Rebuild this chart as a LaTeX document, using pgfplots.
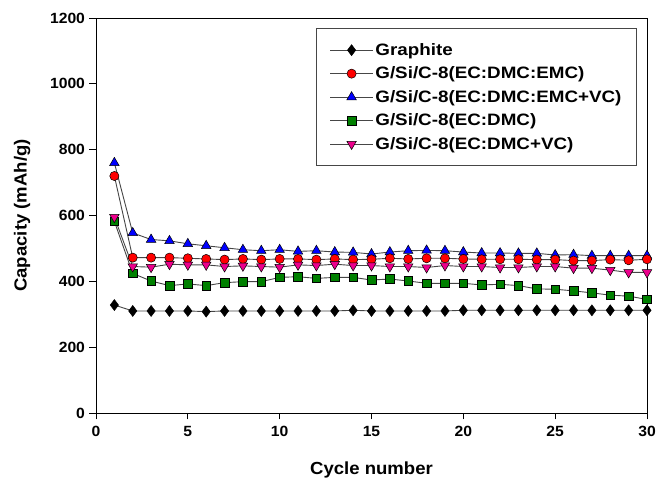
\documentclass[border=0pt]{standalone}
\usepackage{pgfplots}
\pgfplotsset{compat=1.18}
\usepackage{fontspec}
\setmainfont{Liberation Sans}
\newfontfamily\stretchfont[FakeStretch=1.14]{Liberation Sans}
\newfontfamily\tickfont[FakeStretch=1.06]{Liberation Sans}
\definecolor{mgreen}{RGB}{0,128,0}
\definecolor{lgray}{RGB}{70,70,70}
\begin{document}
\begin{tikzpicture}
\useasboundingbox (-96pt,-68pt) rectangle (575pt,413pt);
\begin{axis}[
  scale only axis,
  width=551pt, height=395pt,
  xmin=0, xmax=30, ymin=0, ymax=1200,
  xtick={0,5,...,30}, ytick={0,200,...,1200},
  xtick pos=bottom, ytick pos=left,
  tick align=outside,
  major tick length=6.5pt,
  every tick/.style={black, line width=0.8pt},
  axis line style={black, line width=0.9pt},
  /pgf/number format/assume math mode=true,
  /pgf/number format/1000 sep={},
  ticklabel style={font=\tickfont\fontsize{14.8}{18}\selectfont\bfseries},
  xticklabel style={yshift=-3pt},
  yticklabel style={xshift=-1pt},
  xlabel={Cycle number},
  ylabel={Capacity (mAh/g)},
  every axis x label/.style={at={(axis description cs:0.5,-0.145)}, anchor=center, font=\tickfont\fontsize{17.5}{20}\selectfont\bfseries},
  every axis y label/.style={at={(axis description cs:-0.134,0.5)}, rotate=90, anchor=center, font=\tickfont\fontsize{17.5}{20}\selectfont\bfseries},
  legend style={at={(0.982,0.975)}, anchor=north east, draw=lgray, line width=1.2pt,
    font=\stretchfont\fontsize{16.5}{20}\selectfont\bfseries, row sep=6pt, inner xsep=13pt, inner ysep=13pt},
  legend cell align=left,
  legend image code/.code={\draw[mark repeat=2,mark phase=2,line width=0.9pt] plot coordinates {(0cm,0cm)(0.75cm,0cm)(1.5cm,0cm)};},
  every axis plot/.append style={line width=0.9pt, draw=lgray},
]
\addplot[lgray, mark=diamond*, mark size=5.5pt, mark options={fill=black, draw=black, line width=0.5pt}] coordinates {
(1,328)(2,310)(3,310)(4,310)(5,310)(6,308)(7,310)(8,310)(9,310)(10,310)
(11,310)(12,310)(13,310)(14,312)(15,310)(16,310)(17,310)(18,310)(19,310)(20,312)
(21,312)(22,312)(23,312)(24,312)(25,312)(26,312)(27,312)(28,312)(29,312)(30,312)};
\addlegendimage{lgray, line width=0.9pt, mark=*, mark size=4.6pt, mark options={fill=red, draw=black, line width=0.5pt}}
\addplot[lgray, mark=triangle*, mark size=5.5pt, mark options={fill=blue, draw=black, line width=0.5pt}] coordinates {
(1,760)(2,547)(3,527)(4,523)(5,514)(6,508)(7,502)(8,496)(9,493)(10,496)
(11,491)(12,493)(13,489)(14,488)(15,483)(16,489)(17,493)(18,494)(19,493)(20,489)
(21,486)(22,486)(23,485)(24,485)(25,480)(26,481)(27,478)(28,478)(29,478)(30,478)};
\addplot[forget plot, lgray, mark=*, mark size=4.6pt, mark options={fill=red, draw=black, line width=0.5pt}] coordinates {
(1,720)(2,472)(3,472)(4,472)(5,470)(6,468)(7,466)(8,468)(9,466)(10,468)
(11,468)(12,466)(13,468)(14,466)(15,467)(16,470)(17,468)(18,470)(19,470)(20,468)
(21,467)(22,467)(23,467)(24,466)(25,466)(26,463)(27,463)(28,466)(29,464)(30,467)};
\addplot[lgray, mark=square*, mark size=4.3pt, mark options={fill=mgreen, draw=black, line width=0.5pt}] coordinates {
(1,582)(2,424)(3,401)(4,387)(5,392)(6,387)(7,396)(8,399)(9,399)(10,412)
(11,414)(12,409)(13,412)(14,412)(15,404)(16,407)(17,401)(18,394)(19,394)(20,394)
(21,389)(22,391)(23,387)(24,377)(25,376)(26,371)(27,365)(28,358)(29,355)(30,345)};
\addplot[lgray, mark=triangle*, mark size=5.5pt, mark options={fill=magenta, draw=black, line width=0.5pt, rotate=180}] coordinates {
(1,595)(2,445)(3,443)(4,452)(5,450)(6,450)(7,445)(8,447)(9,445)(10,443)
(11,450)(12,448)(13,452)(14,448)(15,448)(16,445)(17,445)(18,442)(19,448)(20,445)
(21,445)(22,442)(23,442)(24,445)(25,445)(26,440)(27,440)(28,434)(29,427)(30,427)};
\legend{Graphite, G/Si/C-8(EC:DMC:EMC), G/Si/C-8(EC:DMC:EMC+VC), G/Si/C-8(EC:DMC), G/Si/C-8(EC:DMC+VC)}
\end{axis}
\end{tikzpicture}
\end{document}
